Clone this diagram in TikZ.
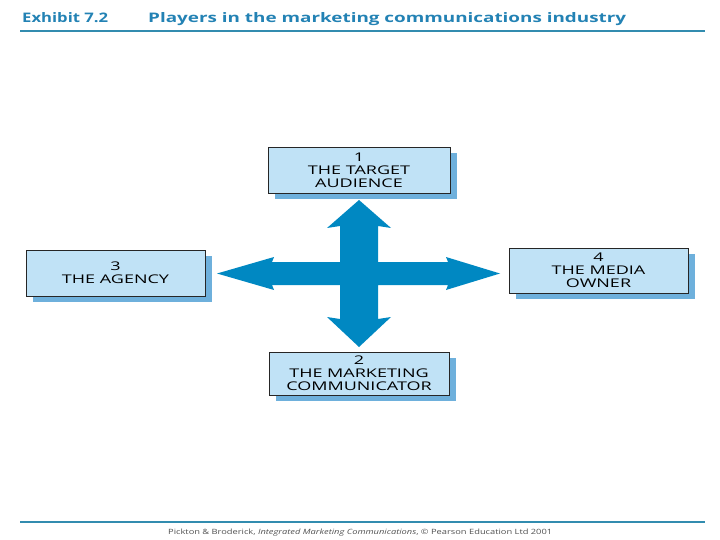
\documentclass[tikz,border=0pt]{standalone}
\usepackage{fontspec}
\setmainfont{Open Sans}
\newfontfamily\boxfont[FakeStretch=1.5]{Open Sans}
\usetikzlibrary{shadows}
\definecolor{titleblue}{RGB}{35,130,180}
\definecolor{ruleblue}{RGB}{50,140,175}
\definecolor{boxfill}{RGB}{192,226,246}
\definecolor{shadowblue}{RGB}{110,176,220}
\definecolor{arrowblue}{RGB}{0,136,194}
\definecolor{footgray}{RGB}{80,80,80}
\begin{document}
\begin{tikzpicture}[x=1pt,y=-1pt,
  player/.style={draw=black!85, line width=0.8pt, fill=boxfill,
    font=\boxfont\fontsize{12pt}{13pt}\selectfont, align=center, inner sep=0pt,
    drop shadow={shadow xshift=7pt, shadow yshift=-6pt, fill=shadowblue, opacity=1}},
  titletext/.style={anchor=base west, inner sep=0pt, text=titleblue},
  rule/.style={draw=ruleblue, line width=1.6pt}
]
\useasboundingbox (0,0) rectangle (720,540);
% title
\node[titletext] (exh) at (22,23) {\resizebox{86pt}{10pt}{\bfseries Exhibit 7.2}};
\node[titletext] (ttl) at (148,23) {\resizebox{478pt}{10pt}{\bfseries Players in the marketing communications industry}};
\draw[rule] (20,31) -- (705,31);
% boxes
\node[player, minimum width=182pt, minimum height=46pt] (aud) at (359,170) {1\\THE TARGET\\AUDIENCE};
\node[player, minimum width=179pt, minimum height=46pt] (agy) at (115.5,273) {3\\THE AGENCY};
\node[player, minimum width=179pt, minimum height=45pt] (med) at (598.5,270.5) {4\\THE MEDIA\\OWNER};
\node[player, minimum width=180pt, minimum height=43pt] (com) at (359,373.5) {2\\THE MARKETING\\COMMUNICATOR};
% four-way arrow
\fill[arrowblue] (359,200) -- (391,228) -- (378,226) -- (378,262) -- (448,262) -- (446,257)
  -- (500,273.5) -- (446,290) -- (448,285) -- (378,285) -- (378,319) -- (391,317)
  -- (359,347) -- (327,317) -- (340,319) -- (340,285) -- (272,285) -- (274,290)
  -- (217,273.5) -- (274,257) -- (272,262) -- (340,262) -- (340,226) -- (327,228) -- cycle;
% footer
\draw[rule] (20,522) -- (705,522);
\node[anchor=base west, inner sep=0pt, text=footgray] (foot) at (168,534) {\resizebox{384pt}{5.5pt}{Pickton \& Broderick, \textit{Integrated Marketing Communications}, \textcopyright{} Pearson Education Ltd 2001}};
\end{tikzpicture}
\end{document}
